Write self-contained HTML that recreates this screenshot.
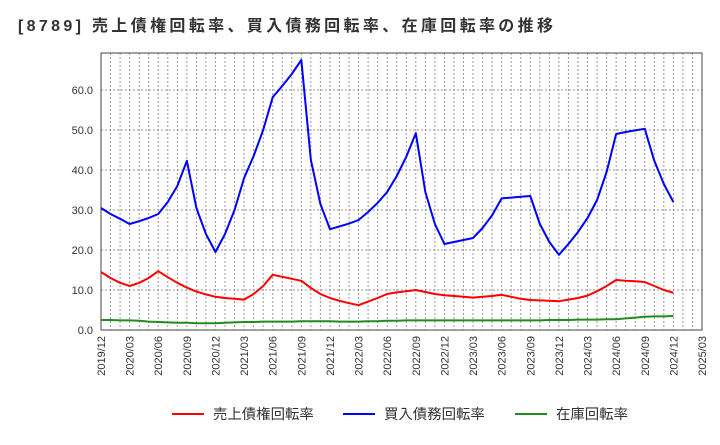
<!DOCTYPE html>
<html><head><meta charset="utf-8"><style>
body{margin:0;background:#fff;font-family:"Liberation Sans","Noto Sans CJK JP",sans-serif;}
svg text{font-family:"Liberation Sans","Noto Sans CJK JP",sans-serif;}
</style></head><body>
<svg id="c" width="720" height="440" xmlns="http://www.w3.org/2000/svg">
<text x="18" y="31" font-size="16" font-weight="bold" fill="#333" textLength="535" lengthAdjust="spacing">[8789]  売上債権回転率、買入債務回転率、在庫回転率の推移</text>
</svg>
<script>
const xTickLabels=["2019/12","2020/03","2020/06","2020/09","2020/12","2021/03","2021/06","2021/09","2021/12","2022/03","2022/06","2022/09","2022/12","2023/03","2023/06","2023/09","2023/12","2024/03","2024/06","2024/09","2024/12","2025/03"];
const yTicks=[0,10,20,30,40,50,60];
const receivables=[14.5,13,11.8,11,11.8,13,14.7,13.2,11.8,10.6,9.6,8.9,8.3,8,7.8,7.6,9,11,13.8,13.3,12.8,12.3,10.5,9,8,7.3,6.7,6.2,7.1,8,9,9.4,9.7,10,9.5,9,8.7,8.5,8.3,8.1,8.3,8.5,8.8,8.3,7.8,7.5,7.4,7.3,7.2,7.6,8,8.6,9.7,11,12.5,12.3,12.2,12,11,10,9.3];
const payables=[30.5,29,27.8,26.5,27.2,28,29,32,36,42.3,30.5,24,19.5,24,30,38,43.5,50,58.2,61,64,67.5,42.5,31.5,25.2,25.9,26.6,27.5,29.5,31.8,34.5,38.5,43.3,49.2,34.5,26.5,21.5,22,22.5,23,25.5,28.7,32.9,33.1,33.3,33.5,26.5,22,18.8,21.5,24.5,28,32.5,39.5,49,49.5,49.9,50.3,42.3,36.5,32];
const inventory=[2.5,2.5,2.4,2.4,2.3,2.1,2,1.9,1.8,1.8,1.7,1.7,1.7,1.8,1.9,2,2,2.1,2.1,2.1,2.1,2.2,2.2,2.2,2.2,2.1,2.1,2.1,2.2,2.2,2.3,2.3,2.4,2.4,2.4,2.4,2.4,2.4,2.4,2.4,2.4,2.4,2.4,2.4,2.4,2.4,2.4,2.5,2.5,2.5,2.6,2.6,2.6,2.7,2.7,2.9,3.1,3.3,3.4,3.4,3.5];
const NS="http://www.w3.org/2000/svg",svg=document.getElementById('c');
const L=101,R=702,T=53,B=330,months=63,yMax=69.25;
const xs=i=>L+(R-L)*i/months, ys=v=>B-(B-T)*v/yMax;
function mk(t,a,p){const e=document.createElementNS(NS,t);for(const k in a)e.setAttribute(k,a[k]);(p||svg).appendChild(e);return e;}
for(let i=1;i<months;i++){const l=mk('line',{x1:xs(i),x2:xs(i),y1:T,y2:B,stroke:'#999','stroke-dasharray':'2,2','stroke-width':1});

}
yTicks.forEach(v=>{if(v>0){const g=mk('line',{x1:L,x2:R,y1:ys(v),y2:ys(v),stroke:'#999','stroke-dasharray':'2,2'});

}
const t=mk('text',{x:L-8,y:ys(v)+4,'text-anchor':'end','font-size':11,fill:'#333'});t.textContent=v.toFixed(1);

});
xTickLabels.forEach((s,i)=>{const x=xs(i*3);const t=mk('text',{transform:`translate(${x+4},336) rotate(-90)`,'text-anchor':'end','font-size':11,fill:'#333'});t.textContent=s;

});
const box=mk('rect',{x:L,y:T,width:R-L,height:B-T,fill:'none',stroke:'#444','stroke-width':1});


[[inventory,'#228b22','inventory-line'],[receivables,'#ff0000','receivables-line'],[payables,'#0000ff','payables-line']].forEach(([d,c,n])=>{
const p=mk('polyline',{points:d.map((v,i)=>xs(i)+','+ys(v)).join(' '),fill:'none',stroke:c,'stroke-width':2,'stroke-linejoin':'round'});

});
[['売上債権回転率','#ff0000',172],['買入債務回転率','#0000ff',343],['在庫回転率','#228b22',515]].forEach(([s,c,x])=>{
const g=mk('g',{});


mk('line',{x1:x,x2:x+32,y1:414,y2:414,stroke:c,'stroke-width':2},g);
const t=mk('text',{x:x+41,y:419,'font-size':14.4,fill:'#333'},g);t.textContent=s;});
</script>
</body></html>
